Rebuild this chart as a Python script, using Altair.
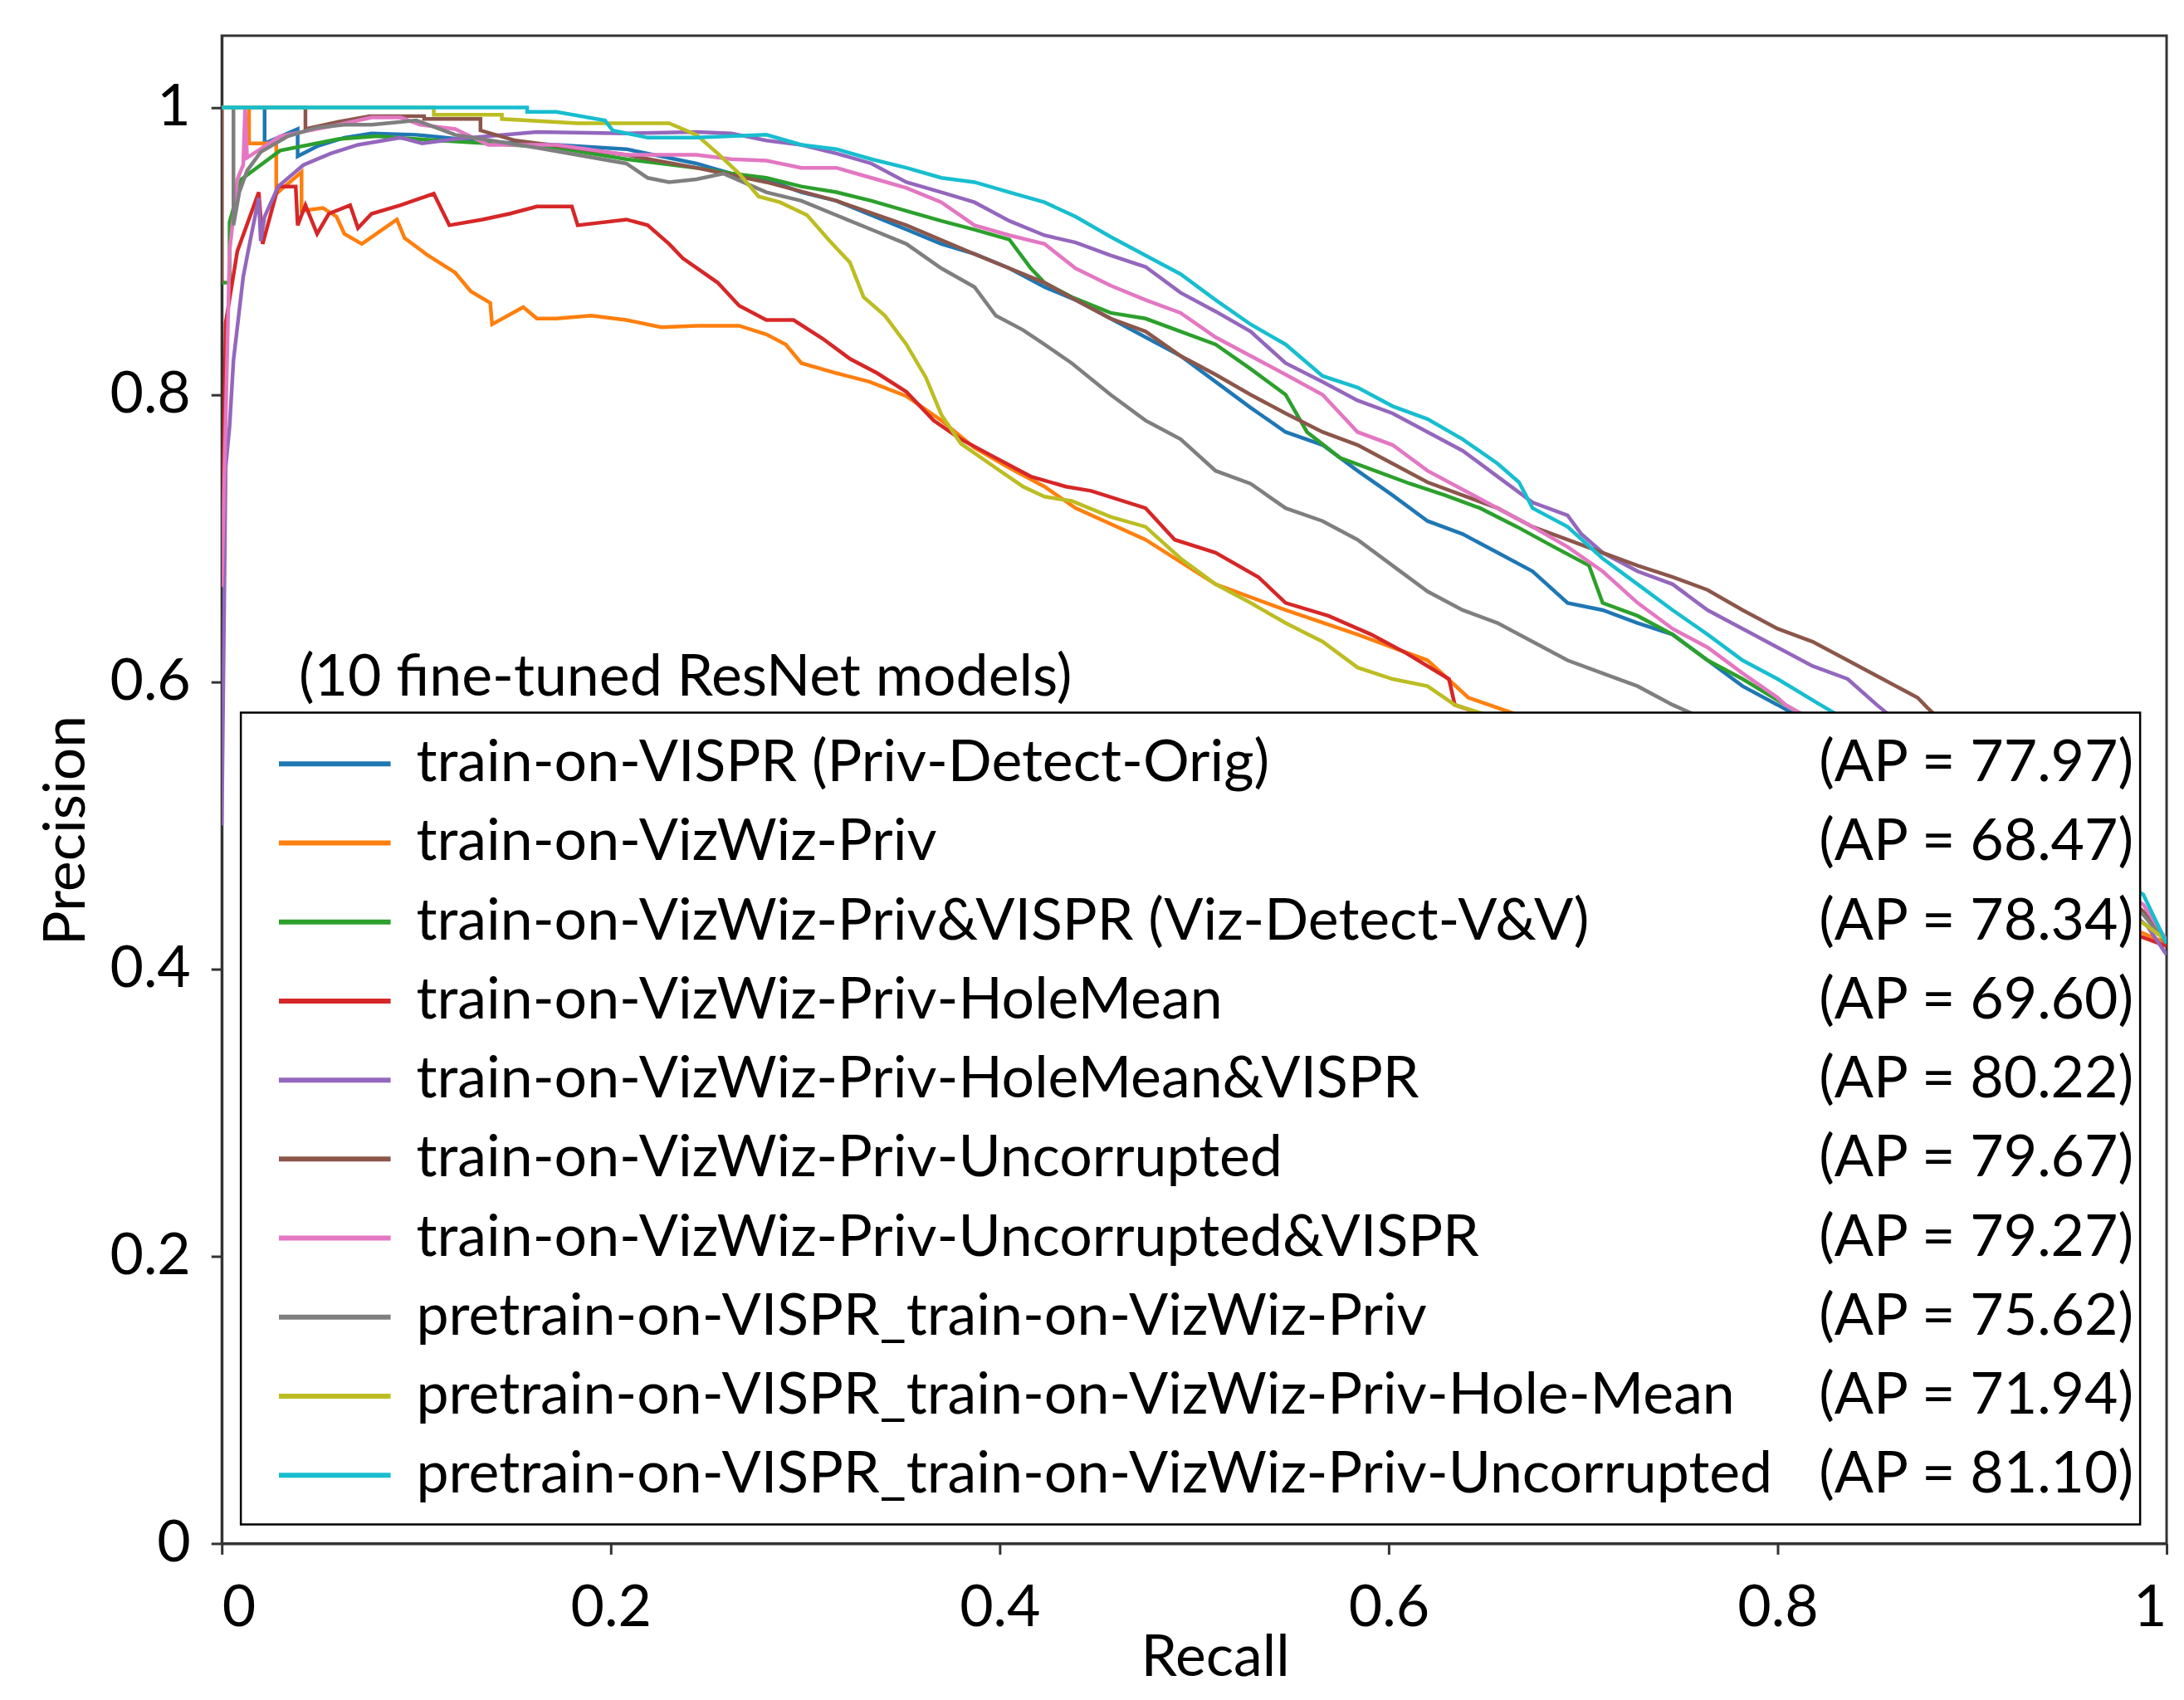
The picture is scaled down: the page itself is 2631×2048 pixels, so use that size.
import altair as alt
import pandas as pd

# ---------------- data ----------------
names = [
    "train-on-VISPR (Priv-Detect-Orig)",
    "train-on-VizWiz-Priv",
    "train-on-VizWiz-Priv&VISPR (Viz-Detect-V&V)",
    "train-on-VizWiz-Priv-HoleMean",
    "train-on-VizWiz-Priv-HoleMean&VISPR",
    "train-on-VizWiz-Priv-Uncorrupted",
    "train-on-VizWiz-Priv-Uncorrupted&VISPR",
    "pretrain-on-VISPR_train-on-VizWiz-Priv",
    "pretrain-on-VISPR_train-on-VizWiz-Priv-Hole-Mean",
    "pretrain-on-VISPR_train-on-VizWiz-Priv-Uncorrupted",
]
ap_values = ["77.97", "68.47", "78.34", "69.60", "80.22", "79.67", "79.27", "75.62", "71.94", "81.10"]
colors = ["#1f77b4", "#ff7f0e", "#2ca02c", "#d62728", "#9467bd",
          "#8c564b", "#e377c2", "#7f7f7f", "#bcbd22", "#17becf"]

blue_r = [0.0, 0.022, 0.022, 0.039, 0.039, 0.049, 0.063, 0.077, 0.100, 0.137, 0.172, 0.208, 0.244, 0.262, 0.280, 0.298, 0.316, 0.334, 0.352, 0.370, 0.387, 0.405, 0.423, 0.439, 0.457, 0.475, 0.493, 0.511, 0.529, 0.547, 0.566, 0.584, 0.602, 0.620, 0.638, 0.656, 0.674, 0.692, 0.710, 0.728, 0.746, 0.764, 0.782, 0.800, 0.988, 1.0]
blue_p = [1.0, 1.0, 0.975, 0.985, 0.966, 0.973, 0.979, 0.982, 0.981, 0.976, 0.974, 0.971, 0.961, 0.954, 0.950, 0.941, 0.935, 0.925, 0.915, 0.905, 0.898, 0.888, 0.875, 0.866, 0.853, 0.840, 0.827, 0.809, 0.791, 0.774, 0.765, 0.747, 0.730, 0.712, 0.703, 0.690, 0.677, 0.655, 0.650, 0.641, 0.633, 0.615, 0.597, 0.584, 0.440, 0.418]

orange_r = [0.0, 0.014, 0.014, 0.028, 0.028, 0.041, 0.041, 0.052, 0.059, 0.063, 0.072, 0.090, 0.094, 0.106, 0.120, 0.128, 0.138, 0.139, 0.155, 0.162, 0.172, 0.190, 0.208, 0.226, 0.244, 0.266, 0.280, 0.290, 0.298, 0.316, 0.333, 0.352, 0.370, 0.387, 0.405, 0.423, 0.439, 0.475, 0.511, 0.547, 0.584, 0.620, 0.641, 0.988, 1.0]
orange_p = [1.0, 1.0, 0.975, 0.975, 0.940, 0.955, 0.928, 0.930, 0.924, 0.912, 0.905, 0.922, 0.909, 0.897, 0.885, 0.872, 0.864, 0.849, 0.861, 0.853, 0.853, 0.855, 0.852, 0.847, 0.848, 0.848, 0.842, 0.835, 0.822, 0.815, 0.809, 0.799, 0.782, 0.763, 0.749, 0.736, 0.721, 0.699, 0.668, 0.650, 0.633, 0.615, 0.589, 0.425, 0.418]

green_r = [0.0, 0.004, 0.004, 0.010, 0.030, 0.060, 0.080, 0.100, 0.137, 0.172, 0.208, 0.226, 0.244, 0.262, 0.280, 0.298, 0.316, 0.334, 0.352, 0.370, 0.387, 0.405, 0.416, 0.423, 0.437, 0.457, 0.475, 0.493, 0.511, 0.529, 0.547, 0.558, 0.575, 0.593, 0.611, 0.629, 0.647, 0.666, 0.685, 0.703, 0.710, 0.728, 0.746, 0.764, 0.782, 0.804, 0.988, 1.0]
green_p = [0.878, 0.878, 0.920, 0.950, 0.970, 0.978, 0.980, 0.978, 0.975, 0.972, 0.964, 0.961, 0.958, 0.954, 0.951, 0.945, 0.941, 0.935, 0.928, 0.921, 0.915, 0.908, 0.888, 0.878, 0.868, 0.857, 0.853, 0.844, 0.835, 0.818, 0.800, 0.774, 0.756, 0.747, 0.738, 0.730, 0.721, 0.708, 0.694, 0.681, 0.655, 0.646, 0.633, 0.615, 0.602, 0.584, 0.440, 0.418]

red_r = [0.0, 0.002, 0.008, 0.019, 0.021, 0.029, 0.038, 0.039, 0.043, 0.049, 0.055, 0.066, 0.070, 0.077, 0.092, 0.109, 0.117, 0.134, 0.148, 0.162, 0.180, 0.183, 0.208, 0.219, 0.230, 0.237, 0.255, 0.266, 0.280, 0.294, 0.309, 0.323, 0.337, 0.352, 0.366, 0.380, 0.398, 0.416, 0.434, 0.447, 0.475, 0.490, 0.511, 0.533, 0.547, 0.569, 0.591, 0.609, 0.631, 0.634, 0.988, 1.0]
red_p = [0.667, 0.850, 0.900, 0.941, 0.905, 0.945, 0.945, 0.918, 0.932, 0.912, 0.926, 0.932, 0.916, 0.926, 0.932, 0.940, 0.918, 0.922, 0.926, 0.931, 0.931, 0.918, 0.922, 0.918, 0.905, 0.895, 0.878, 0.862, 0.852, 0.852, 0.839, 0.825, 0.815, 0.802, 0.782, 0.769, 0.756, 0.743, 0.736, 0.733, 0.721, 0.699, 0.690, 0.673, 0.655, 0.646, 0.633, 0.620, 0.602, 0.584, 0.422, 0.416]

purple_r = [0.0, 0.002, 0.004, 0.006, 0.011, 0.015, 0.019, 0.020, 0.022, 0.029, 0.042, 0.056, 0.070, 0.092, 0.103, 0.120, 0.162, 0.208, 0.244, 0.262, 0.280, 0.298, 0.316, 0.334, 0.352, 0.370, 0.387, 0.405, 0.423, 0.439, 0.457, 0.475, 0.493, 0.511, 0.529, 0.547, 0.566, 0.584, 0.602, 0.620, 0.638, 0.656, 0.674, 0.692, 0.699, 0.710, 0.728, 0.746, 0.764, 0.782, 0.800, 0.818, 0.836, 0.851, 0.990, 1.0]
purple_p = [0.500, 0.750, 0.778, 0.824, 0.882, 0.910, 0.937, 0.907, 0.924, 0.945, 0.960, 0.968, 0.974, 0.979, 0.975, 0.978, 0.983, 0.982, 0.983, 0.982, 0.977, 0.974, 0.968, 0.961, 0.948, 0.941, 0.934, 0.921, 0.911, 0.906, 0.897, 0.889, 0.871, 0.858, 0.844, 0.822, 0.809, 0.796, 0.787, 0.774, 0.761, 0.743, 0.725, 0.716, 0.703, 0.690, 0.677, 0.668, 0.650, 0.637, 0.624, 0.611, 0.602, 0.584, 0.430, 0.410]

brown_r = [0.0, 0.0, 0.043, 0.043, 0.060, 0.076, 0.104, 0.104, 0.133, 0.133, 0.151, 0.208, 0.244, 0.280, 0.316, 0.352, 0.387, 0.405, 0.423, 0.439, 0.457, 0.475, 0.493, 0.511, 0.529, 0.547, 0.566, 0.584, 0.602, 0.620, 0.638, 0.656, 0.674, 0.692, 0.710, 0.728, 0.746, 0.764, 0.782, 0.800, 0.818, 0.836, 0.854, 0.872, 0.877, 0.988, 1.0]
brown_p = [0.878, 1.0, 1.0, 0.985, 0.990, 0.994, 0.994, 0.992, 0.992, 0.984, 0.977, 0.967, 0.958, 0.948, 0.935, 0.918, 0.898, 0.888, 0.878, 0.866, 0.853, 0.844, 0.827, 0.814, 0.800, 0.787, 0.774, 0.765, 0.752, 0.739, 0.730, 0.721, 0.708, 0.699, 0.690, 0.681, 0.673, 0.664, 0.650, 0.637, 0.628, 0.615, 0.602, 0.589, 0.582, 0.440, 0.418]

pink_r = [0.0, 0.004, 0.008, 0.011, 0.012, 0.013, 0.030, 0.060, 0.077, 0.092, 0.102, 0.120, 0.137, 0.172, 0.208, 0.244, 0.262, 0.280, 0.298, 0.316, 0.334, 0.352, 0.370, 0.387, 0.405, 0.423, 0.439, 0.457, 0.475, 0.493, 0.511, 0.529, 0.547, 0.566, 0.584, 0.602, 0.620, 0.638, 0.656, 0.674, 0.692, 0.710, 0.728, 0.746, 0.764, 0.782, 0.800, 0.804, 0.988, 1.0]
pink_p = [0.666, 0.900, 0.950, 0.960, 1.0, 0.965, 0.980, 0.988, 0.993, 0.993, 0.988, 0.985, 0.974, 0.974, 0.967, 0.967, 0.964, 0.963, 0.958, 0.958, 0.951, 0.944, 0.934, 0.918, 0.911, 0.905, 0.888, 0.876, 0.866, 0.857, 0.840, 0.827, 0.814, 0.800, 0.774, 0.765, 0.747, 0.734, 0.721, 0.708, 0.694, 0.677, 0.655, 0.637, 0.624, 0.606, 0.589, 0.584, 0.445, 0.420]

gray_r = [0.0, 0.006, 0.006, 0.009, 0.013, 0.020, 0.034, 0.049, 0.063, 0.077, 0.100, 0.120, 0.162, 0.208, 0.219, 0.230, 0.244, 0.258, 0.280, 0.298, 0.316, 0.334, 0.352, 0.370, 0.387, 0.398, 0.412, 0.423, 0.437, 0.457, 0.475, 0.493, 0.511, 0.529, 0.547, 0.566, 0.584, 0.602, 0.620, 0.638, 0.656, 0.674, 0.692, 0.710, 0.728, 0.746, 0.988, 1.0]
gray_p = [1.0, 1.0, 0.918, 0.941, 0.956, 0.969, 0.980, 0.986, 0.988, 0.988, 0.991, 0.981, 0.972, 0.961, 0.951, 0.948, 0.950, 0.954, 0.941, 0.935, 0.925, 0.915, 0.905, 0.888, 0.875, 0.855, 0.845, 0.835, 0.822, 0.800, 0.782, 0.769, 0.747, 0.738, 0.721, 0.712, 0.699, 0.681, 0.663, 0.650, 0.641, 0.628, 0.615, 0.606, 0.597, 0.584, 0.438, 0.418]

olive_r = [0.0, 0.109, 0.109, 0.144, 0.144, 0.183, 0.230, 0.244, 0.255, 0.266, 0.276, 0.287, 0.301, 0.312, 0.323, 0.330, 0.341, 0.352, 0.362, 0.370, 0.380, 0.398, 0.412, 0.423, 0.437, 0.457, 0.475, 0.493, 0.511, 0.529, 0.547, 0.566, 0.584, 0.602, 0.620, 0.634, 0.988, 1.0]
olive_p = [1.0, 1.0, 0.995, 0.995, 0.992, 0.989, 0.989, 0.981, 0.968, 0.954, 0.938, 0.934, 0.925, 0.908, 0.892, 0.868, 0.855, 0.835, 0.812, 0.786, 0.766, 0.749, 0.736, 0.729, 0.726, 0.715, 0.708, 0.686, 0.668, 0.655, 0.641, 0.628, 0.610, 0.602, 0.597, 0.584, 0.432, 0.420]

cyan_r = [0.0, 0.157, 0.157, 0.172, 0.197, 0.201, 0.219, 0.244, 0.280, 0.298, 0.316, 0.334, 0.352, 0.370, 0.387, 0.405, 0.423, 0.439, 0.457, 0.475, 0.493, 0.511, 0.529, 0.547, 0.566, 0.584, 0.602, 0.620, 0.638, 0.656, 0.667, 0.674, 0.692, 0.710, 0.728, 0.746, 0.764, 0.782, 0.800, 0.822, 0.988, 1.0]
cyan_p = [1.0, 1.0, 0.997, 0.997, 0.991, 0.984, 0.979, 0.979, 0.981, 0.974, 0.971, 0.964, 0.958, 0.951, 0.948, 0.941, 0.934, 0.924, 0.910, 0.897, 0.884, 0.866, 0.849, 0.835, 0.813, 0.805, 0.792, 0.783, 0.769, 0.752, 0.739, 0.721, 0.708, 0.686, 0.668, 0.650, 0.633, 0.615, 0.602, 0.584, 0.452, 0.418]

series_recall = [blue_r, orange_r, green_r, red_r, purple_r, brown_r, pink_r, gray_r, olive_r, cyan_r]
series_precision = [blue_p, orange_p, green_p, red_p, purple_p, brown_p, pink_p, gray_p, olive_p, cyan_p]

legend_title = "(10 fine-tuned ResNet models)"
x_ticks = [0, 0.2, 0.4, 0.6, 0.8, 1]
y_ticks = [0, 0.2, 0.4, 0.6, 0.8, 1]

# ---------------- tables ----------------
keys = [f"{i:02d}" for i in range(len(names))]
rows = []
for key, rr, pp in zip(keys, series_recall, series_precision):
    assert len(rr) == len(pp), key
    for j, (a, b) in enumerate(zip(rr, pp)):
        rows.append({"key": key, "idx": j, "recall": a, "precision": b})
curves = pd.DataFrame(rows)
legend_df = pd.DataFrame({"key": keys, "name": names,
                          "ap": [f"(AP = {v})" for v in ap_values]})

FONT = "Lato"
FS = 70
AXC = "#333333"

color_scale = alt.Scale(domain=keys, range=colors)

lines = alt.Chart(curves).mark_line(strokeWidth=4.5, clip=True).encode(
    x=alt.X("recall:Q", title="Recall",
            scale=alt.Scale(domain=[0, 1], nice=False, zero=False),
            axis=alt.Axis(values=x_ticks, format="~g", labelFlush=True,
                          labelPadding=31, titleX=1200, titleY=160,
                          titleBaseline="alphabetic")),
    y=alt.Y("precision:Q", title="Precision",
            scale=alt.Scale(domain=[0, 1.05], nice=False, zero=False),
            axis=alt.Axis(values=y_ticks, format="~g", labelPadding=25,
                          titleX=-166, titleY=960, titleAngle=270,
                          titleBaseline="alphabetic", titleAlign="center")),
    color=alt.Color("key:N", scale=color_scale, legend=None),
    order=alt.Order("idx:Q"),
)

one = pd.DataFrame({"t": [legend_title]})
box = alt.Chart(one).mark_rect(fill="white", stroke="black", strokeWidth=2.5).encode(
    x=alt.value(23), x2=alt.value(2318), y=alt.value(818), y2=alt.value(1799))
title_txt = alt.Chart(one).mark_text(align="left", baseline="alphabetic", font=FONT,
                                     fontSize=FS, color="black").encode(
    x=alt.value(93), y=alt.value(797), text="t:N")

legend_y = alt.Y("key:N", sort=keys,
                 scale=alt.Scale(type="point", domain=keys, range=[880, 1739.5], padding=0),
                 axis=None)
swatch = alt.Chart(legend_df).mark_rule(strokeWidth=6).encode(
    x=alt.value(69), x2=alt.value(204), y=legend_y,
    color=alt.Color("key:N", scale=color_scale, legend=None))
label_txt = alt.Chart(legend_df).mark_text(align="left", baseline="middle", font=FONT,
                                           fontSize=FS, color="black").encode(
    x=alt.value(235), y=legend_y, text="name:N")
ap_txt = alt.Chart(legend_df).mark_text(align="right", baseline="middle", font=FONT,
                                        fontSize=FS, color="black").encode(
    x=alt.value(2310), y=legend_y, text="ap:N")

chart = alt.layer(lines, box, title_txt, swatch, label_txt, ap_txt).resolve_scale(
    y="independent"
).properties(
    width=2350, height=1822,
    padding={"left": 260, "top": 32, "right": 13, "bottom": 178},
    autosize=alt.AutoSizeParams(type="none"),
    background="white",
).configure_view(
    stroke=AXC, strokeWidth=3
).configure_axis(
    grid=False, domainColor=AXC, domainWidth=3, tickColor=AXC, tickWidth=3,
    tickSize=13, labelFont=FONT, labelFontSize=FS, labelColor="black",
    titleFont=FONT, titleFontSize=FS, titleFontWeight="normal", titleColor="black",
)

chart.save("out.html", embed_options={"renderer": "svg", "actions": False})
